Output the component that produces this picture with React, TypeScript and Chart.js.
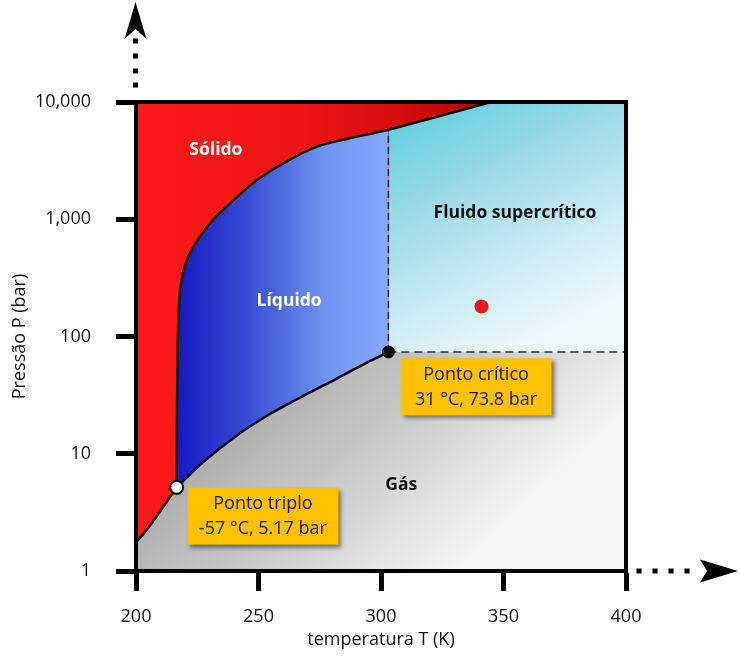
import { useEffect, useRef } from 'react';
import { Chart, registerables } from 'chart.js';

Chart.register(...registerables);

// ---------- data ----------
const xTicks = [200, 250, 300, 350, 400];
const yTicks = [1, 10, 100, 1000, 10000];
const yTickLabels = ['1', '10', '100', '1,000', '10,000'];
const xTitle = 'temperatura T (K)';
const yTitle = 'Pressão P (bar)';

// sublimation curve (solid / gas)
const sublimationT = [200, 204, 208, 212, 216.6];
const sublimationP = [1.75, 2.2, 2.85, 3.75, 5.17];

// melting curve (solid / liquid, solid / supercritical)
const meltingT = [216.6, 216.8, 217.2, 218.65, 220.3, 222.7, 230.2, 239.7, 249.3, 260.1, 273.8, 286, 303, 322.4, 345];
const meltingP = [5.17, 30, 120, 303, 420, 547, 923, 1449, 2163, 3000, 4159, 4834, 5800, 7450, 10000];

// vaporization curve (liquid / gas)
const vaporT = [216.6, 227.2, 240.9, 254.5, 268.1, 281.8, 295.4, 303];
const vaporP = [5.17, 8.4, 14.2, 21.7, 31, 43.6, 61.6, 73.8];

const tripleT = 216.6;
const tripleP = 5.17;
const criticalT = 303;
const criticalP = 73.8;
const sampleT = 341;
const sampleP = 180;

const regionNames = ['Sólido', 'Líquido', 'Fluido supercrítico', 'Gás'];
const regionT = [232.6, 262.5, 354.7, 308.3];
const regionP = [3900, 199, 1136, 5.4];

const calloutTitles = ['Ponto triplo', 'Ponto crítico'];
const calloutValues = ['-57 °C, 5.17 bar', '31 °C, 73.8 bar'];
const calloutT = [251.8, 338.8];
const calloutP = [2.94, 37.2];

// ---------- helpers ----------
const FONT = '"Open Sans", "DejaVu Sans", sans-serif';

const pts = (T: number[], P: number[]) => T.map((t, i) => ({ x: t, y: P[i] }));

const xMin = xTicks[0];
const xMax = xTicks[xTicks.length - 1];
const yMin = yTicks[0];
const yMax = yTicks[yTicks.length - 1];

const critIdx = meltingT.indexOf(criticalT);
const meltAtCritical = meltingP[critIdx];
const meltingAll = pts(meltingT, meltingP);
const meltingLiquid = meltingAll.slice(0, critIdx + 1);
const vaporPts = pts(vaporT, vaporP);
const sublimationPts = pts(sublimationT, sublimationP);
const gasBoundary = [...sublimationPts, ...vaporPts.slice(1), { x: xMax, y: criticalP }];
const superBoundary = [
  { x: criticalT, y: criticalP },
  { x: xMax, y: criticalP },
];

function makeGrad(chart: any, a: [number, number], b: [number, number], stops: [number, string][]) {
  const { ctx, scales, chartArea } = chart;
  if (!chartArea || !scales.x || !scales.y) return stops[0][1];
  const sx = scales.x;
  const sy = scales.y;
  const g = ctx.createLinearGradient(
    sx.getPixelForValue(a[0]),
    sy.getPixelForValue(a[1]),
    sx.getPixelForValue(b[0]),
    sy.getPixelForValue(b[1])
  );
  stops.forEach(([o, c]) => g.addColorStop(o, c));
  return g;
}

const solidGrad = (chart: any) =>
  makeGrad(chart, [xMin, 1000], [meltingT[meltingT.length - 1], 1000], [
    [0, '#fc1a1a'],
    [0.45, '#ef1515'],
    [0.75, '#d40d0d'],
    [1, '#ae0606'],
  ]);

const fillBase = {
  borderWidth: 0,
  pointRadius: 0,
  cubicInterpolationMode: 'monotone' as const,
  borderColor: 'rgba(0,0,0,0)',
};

// solid phase = plot background, other phases are painted over it
const solidBackground = {
  id: 'solidBackground',
  beforeDatasetsDraw(chart: any) {
    const { ctx, chartArea: a } = chart;
    ctx.save();
    ctx.fillStyle = solidGrad(chart);
    ctx.fillRect(a.left, a.top, a.right - a.left, a.bottom - a.top);
    ctx.restore();
  },
};

const decorPlugin = {
  id: 'decor',
  afterDatasetsDraw(chart: any) {
    const { ctx, chartArea: a, scales } = chart;
    const sx = scales.x;
    const sy = scales.y;
    ctx.save();

    // frame
    ctx.strokeStyle = '#000';
    ctx.lineWidth = 4;
    ctx.strokeRect(a.left, a.top, a.right - a.left, a.bottom - a.top);

    // upward dotted arrow
    ctx.fillStyle = '#000';
    const cx = a.left - 0.5;
    [61, 46, 31, 17].forEach((d) => ctx.fillRect(cx - 2.5, a.top - d - 2.5, 5, 5));
    ctx.beginPath();
    ctx.moveTo(cx, a.top - 100);
    ctx.lineTo(cx + 11, a.top - 63);
    ctx.lineTo(cx, a.top - 73);
    ctx.lineTo(cx - 11, a.top - 63);
    ctx.closePath();
    ctx.fill();

    // rightward dotted arrow
    const cy = a.bottom;
    [13, 29, 45, 61].forEach((d) => ctx.fillRect(a.right + d - 2.5, cy - 2.5, 5, 5));
    ctx.beginPath();
    ctx.moveTo(a.right + 112, cy);
    ctx.lineTo(a.right + 74, cy - 11.5);
    ctx.lineTo(a.right + 81, cy);
    ctx.lineTo(a.right + 74, cy + 11.5);
    ctx.closePath();
    ctx.fill();

    // region labels
    ctx.textAlign = 'center';
    ctx.textBaseline = 'middle';
    ctx.font = `bold 17.5px ${FONT}`;
    regionNames.forEach((name, i) => {
      ctx.fillStyle = i < 2 ? '#ffffff' : '#111111';
      ctx.fillText(name, sx.getPixelForValue(regionT[i]), sy.getPixelForValue(regionP[i]));
    });

    // callout boxes
    const bw = 151;
    const bh = 57;
    calloutTitles.forEach((title, i) => {
      const px = sx.getPixelForValue(calloutT[i]);
      const py = sy.getPixelForValue(calloutP[i]);
      ctx.save();
      ctx.shadowColor = 'rgba(0,0,0,0.45)';
      ctx.shadowBlur = 4;
      ctx.shadowOffsetX = 3;
      ctx.shadowOffsetY = 3;
      ctx.fillStyle = '#ffc000';
      ctx.fillRect(px - bw / 2, py - bh / 2, bw, bh);
      ctx.restore();
      ctx.fillStyle = '#1a1a1a';
      ctx.font = `18px ${FONT}`;
      ctx.fillText(title, px, py - 12);
      ctx.fillText(calloutValues[i], px, py + 13);
    });

    ctx.restore();
  },
};

export default function App() {
  const canvasRef = useRef<HTMLCanvasElement | null>(null);

  useEffect(() => {
    const canvas = canvasRef.current;
    if (!canvas) return;

    const VAPOR_LINE_INDEX = 7;

    const chart = new Chart(canvas, {
      type: 'line',
      data: {
        datasets: [
          // 0: gas region
          {
            ...fillBase,
            label: 'gas',
            data: gasBoundary,
            fill: 'start',
            order: 100,
            backgroundColor: (c: any) =>
              makeGrad(c.chart, [250, 60], [330, 1], [
                [0, '#a6a6a6'],
                [0.5, '#cbcbcb'],
                [1, '#f5f5f5'],
              ]),
          },
          // 1: supercritical region
          {
            ...fillBase,
            label: 'supercritical',
            data: superBoundary,
            fill: 'end',
            order: 99,
            backgroundColor: (c: any) =>
              makeGrad(c.chart, [criticalT, yMax], [356, criticalP], [
                [0, '#56cbdd'],
                [0.4, '#9edbe7'],
                [0.8, '#d6eff5'],
                [1, '#eef8fb'],
              ]),
          },
          // 2: liquid region (between melting and vaporization curves)
          {
            ...fillBase,
            label: 'liquid',
            data: meltingLiquid,
            fill: VAPOR_LINE_INDEX,
            order: 98,
            backgroundColor: (c: any) =>
              makeGrad(c.chart, [tripleT, 100], [criticalT, 100], [
                [0, '#1818c2'],
                [0.35, '#3a50d4'],
                [0.7, '#6e94f0'],
                [1, '#86aafc'],
              ]),
          },
          // 3: solid above the melting curve (covers supercritical corner)
          {
            ...fillBase,
            label: 'solid',
            data: meltingAll,
            fill: 'end',
            order: 97,
            backgroundColor: (c: any) => solidGrad(c.chart),
          },
          // 4: dashed vertical
          {
            label: 'dashV',
            data: [
              { x: criticalT, y: criticalP },
              { x: criticalT, y: meltAtCritical },
            ],
            borderColor: '#1c2c48',
            borderWidth: 1.5,
            borderDash: [7, 4],
            pointRadius: 0,
            fill: false,
            order: 10,
          },
          // 5: dashed horizontal
          {
            label: 'dashH',
            data: superBoundary,
            borderColor: '#333333',
            borderWidth: 1.5,
            borderDash: [8, 5],
            pointRadius: 0,
            fill: false,
            order: 9,
          },
          // 6: melting line
          {
            label: 'meltingLine',
            data: meltingAll,
            borderColor: '#000',
            borderWidth: 2.5,
            pointRadius: 0,
            fill: false,
            cubicInterpolationMode: 'monotone',
            order: 8,
          },
          // 7: vaporization line
          {
            label: 'vaporLine',
            data: vaporPts,
            borderColor: '#000',
            borderWidth: 2.5,
            pointRadius: 0,
            fill: false,
            cubicInterpolationMode: 'monotone',
            order: 7,
          },
          // 8: sublimation line
          {
            label: 'sublimationLine',
            data: sublimationPts,
            borderColor: '#000',
            borderWidth: 2.5,
            pointRadius: 0,
            fill: false,
            cubicInterpolationMode: 'monotone',
            order: 6,
          },
          // points
          {
            label: 'critical',
            data: [{ x: criticalT, y: criticalP }],
            showLine: false,
            pointRadius: 6,
            pointBackgroundColor: '#000',
            pointBorderColor: '#000',
            pointBorderWidth: 1,
            order: 2,
          },
          {
            label: 'triple',
            data: [{ x: tripleT, y: tripleP }],
            showLine: false,
            pointRadius: 6.5,
            pointBackgroundColor: '#ffffff',
            pointBorderColor: '#000',
            pointBorderWidth: 2,
            order: 1,
          },
          {
            label: 'sample',
            data: [{ x: sampleT, y: sampleP }],
            showLine: false,
            pointRadius: 7,
            pointBackgroundColor: '#e51b1b',
            pointBorderColor: '#e51b1b',
            pointBorderWidth: 0,
            order: 0,
          },
        ] as any,
      },
      options: {
        animation: false,
        responsive: false,
        devicePixelRatio: 1,
        events: [],
        layout: { padding: { left: 0, top: 102, right: 114, bottom: 0 } },
        plugins: {
          legend: { display: false },
          tooltip: { enabled: false },
          title: { display: false },
        },
        scales: {
          x: {
            type: 'linear',
            min: xMin,
            max: xMax,
            afterBuildTicks: (s: any) => {
              s.ticks = xTicks.map((v) => ({ value: v }));
            },
            afterFit: (s: any) => {
              s.height = 91;
            },
            ticks: {
              color: '#111',
              font: { family: FONT, size: 18 },
              padding: 15,
              maxRotation: 0,
              callback: (v: any) => String(v),
            },
            grid: {
              drawOnChartArea: false,
              drawTicks: true,
              tickLength: 20,
              tickWidth: 5,
              tickColor: '#000',
            },
            border: { display: true, color: '#000', width: 4 },
            title: {
              display: true,
              text: xTitle,
              color: '#111',
              font: { family: FONT, size: 18 },
              padding: { top: 0, bottom: 11 },
            },
          },
          y: {
            type: 'logarithmic',
            min: yMin,
            max: yMax,
            afterBuildTicks: (s: any) => {
              s.ticks = yTicks.map((v) => ({ value: v }));
            },
            afterFit: (s: any) => {
              s.width = 136;
            },
            ticks: {
              color: '#111',
              font: { family: FONT, size: 18 },
              padding: 25,
              callback: (v: any) => {
                const i = yTicks.indexOf(Number(v));
                return i >= 0 ? yTickLabels[i] : '';
              },
            },
            grid: {
              drawOnChartArea: false,
              drawTicks: true,
              tickLength: 20,
              tickWidth: 5,
              tickColor: '#000',
            },
            border: { display: true, color: '#000', width: 4 },
            title: {
              display: true,
              text: yTitle,
              color: '#111',
              font: { family: FONT, size: 18 },
              padding: { top: 9, bottom: 0 },
            },
          },
        },
      } as any,
      plugins: [solidBackground, decorPlugin],
    });

    return () => chart.destroy();
  }, []);

  return (
    <div style={{ position: 'fixed', left: 0, top: 0, width: 740, height: 662, background: '#fff' }}>
      <canvas ref={canvasRef} width={740} height={662} style={{ display: 'block' }} />
    </div>
  );
}
